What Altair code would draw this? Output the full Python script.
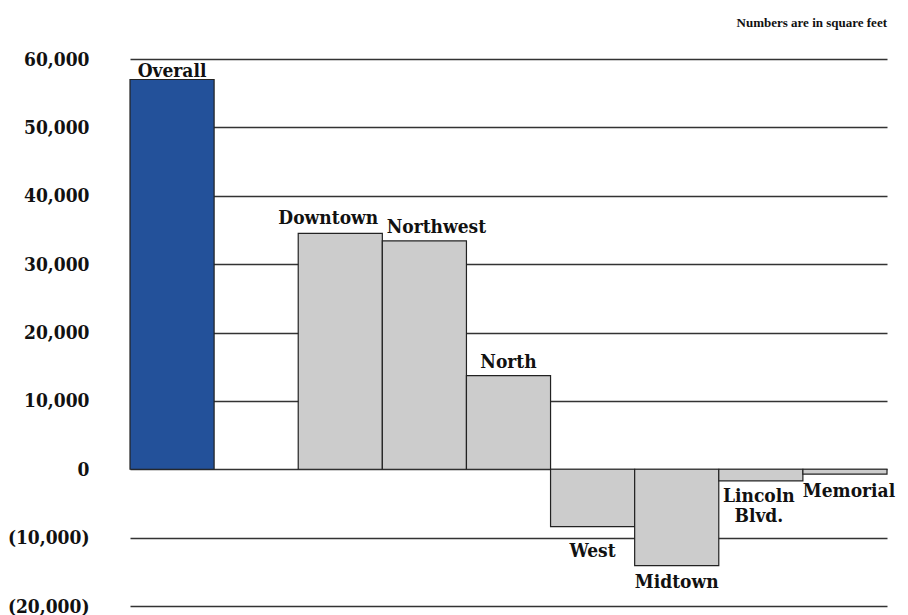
import altair as alt
import pandas as pd

# Change in space by location, in square feet
categories = ["Overall", "Downtown", "Northwest", "North", "West",
              "Midtown", "Lincoln Blvd.", "Memorial"]
values = [57000, 34500, 33400, 13700, -8400, -14100, -1700, -700]
labels = ["Overall", "Downtown", "Northwest", "North", "West",
          "Midtown", "Lincoln\nBlvd.", "Memorial"]
y_ticks = [-20000, -10000, 0, 10000, 20000, 30000, 40000, 50000, 60000]

# An empty slot separates the overall bar from the locations
slot_order = ["Overall", "(blank)"] + categories[1:]

FONT = "DejaVu Serif Condensed, DejaVu Serif"
NOTE_FONT = "Liberation Serif"
BLUE = "#23519a"
GREY = "#cccccc"
EDGE = "#222222"

df = pd.DataFrame({
    "location": categories,
    "sqft": values,
    "label": labels,
    "kind": ["overall"] + ["site"] * (len(categories) - 1),
})

x_enc = alt.X("location:N", sort=slot_order,
              scale=alt.Scale(domain=slot_order, paddingInner=0, paddingOuter=0),
              axis=None)

y_label_expr = (
    "datum.value < 0 ? '(' + format(-datum.value, ',') + ')' : "
    "datum.value == 0 ? '0\u2007\u2007' : format(datum.value, ',')"
)

bars = alt.Chart(df).mark_bar(stroke=EDGE, strokeWidth=1.2).encode(
    x=x_enc,
    y=alt.Y("sqft:Q",
            scale=alt.Scale(domain=[-20000, 60000], nice=False, zero=True),
            axis=alt.Axis(values=y_ticks, title=None, grid=True,
                          gridColor="#333333", gridWidth=1.5,
                          domain=False, ticks=False,
                          labelPadding=41, labelAlign="right",
                          labelFont=FONT, labelFontWeight="bold",
                          labelFontSize=19, labelColor="#111111",
                          labelExpr=y_label_expr)),
    color=alt.Color("kind:N",
                    scale=alt.Scale(domain=["overall", "site"], range=[BLUE, GREY]),
                    legend=None),
)

# Label nudges (dx, dy) so neighbouring names do not collide
nudges = {
    "Overall": (0, -3),
    "Downtown": (-12, -9),
    "Northwest": (12, -8),
    "North": (0, -8),
    "West": (0, 30),
    "Midtown": (0, 22),
    "Lincoln Blvd.": (-2, 21),
    "Memorial": (4, 23),
}

text_layers = []
for name, (dx, dy) in nudges.items():
    text_layers.append(
        alt.Chart(df).transform_filter(alt.datum.location == name)
        .mark_text(font=FONT, fontWeight="bold", fontSize=19, color="#111111",
                   baseline="alphabetic", align="center", dx=dx, dy=dy,
                   lineBreak="\n", lineHeight=20)
        .encode(x=x_enc, y="sqft:Q", text="label:N")
    )

chart = alt.layer(bars, *text_layers).properties(
    width=757,
    height=547,
    title=alt.TitleParams("Numbers are in square feet", anchor="end",
                          frame="group", orient="top",
                          font=NOTE_FONT, fontWeight="bold", fontSize=13,
                          color="#111111", baseline="alphabetic", offset=10),
    autosize=alt.AutoSizeParams(type="none"),
    padding={"left": 130, "top": 59, "right": 21, "bottom": 9},
).configure(background="white").configure_view(stroke=None)

chart.save("out.html", embed_options={"renderer": "svg", "actions": False})
